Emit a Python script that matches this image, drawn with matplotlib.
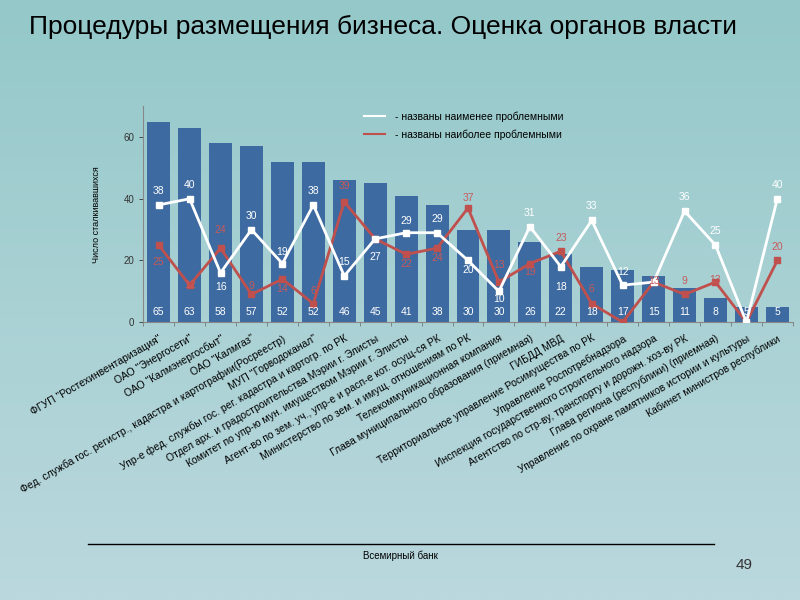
import matplotlib.pyplot as plt
import numpy as np
from matplotlib.lines import Line2D
from matplotlib.colors import LinearSegmentedColormap

# Данные
organy = [
    'ФГУП "Ростехинвентаризация"',
    'ОАО "Энергосети"',
    'ОАО "Калмэнергосбыт"',
    'ОАО "Калмгаз"',
    'Фед. служба гос. регистр., кадастра и картографии(Росреестр)',
    'МУП "Горводоканал"',
    'Упр-е фед. службы гос. рег. кадастра и картогр. по РК',
    'Отдел арх. и градостроительства Мэрии г. Элисты',
    'Комитет по упр-ю мун. имуществом Мэрии г. Элисты',
    'Агент-во по зем. уч., упр-е и расп-е кот. осущ-ся РК',
    'Министерство по зем. и имущ. отношениям по РК',
    'Телекоммуникационная компания',
    'Глава муниципального образования (приемная)',
    'ГИБДД МВД',
    'Территориальное управление Росимущества по РК',
    'Управление Роспотребнадзора',
    'Инспекция государственного строительного надзора',
    'Агентство по стр-ву, транспорту и дорожн. хоз-ву РК',
    'Глава региона (республики) (приемная)',
    'Управление по охране памятников истории и культуры',
    'Кабинет министров республики',
]
stalkivavshiesya = [65, 63, 58, 57, 52, 52, 46, 45, 41, 38, 30, 30, 26, 22, 18, 17, 15, 11, 8, 5, 5]
naimenee = [38, 40, 16, 30, 19, 38, 15, 27, 29, 29, 20, 10, 31, 18, 33, 12, 13, 36, 25, 0, 40]
naibolee = [25, 12, 24, 9, 14, 6, 39, 27, 22, 24, 37, 13, 19, 23, 6, 0, 13, 9, 13, 0, 20]

# смещения подписей (пиксели, None = без подписи)
sdvig_bel = [14, 14, -14, 14, 12, 14, 14, -18, 12, 14, -10, -8, 14, -20, 14, 13, None, 14, 14, None, 14]
sdvig_kr = [-17, 0, 18, 8, -10, 13, 16, None, -10, -10, 10, 17, -8, 13, 15, None, 1, 13, 2, None, 13]

sinij = '#3d6aa0'
krasnyj = '#c0504d'
shrift = ['Liberation Sans', 'DejaVu Sans']

fig = plt.figure(figsize=(8, 6), dpi=100)

# фон с градиентом (сверху темнее)
fon = fig.add_axes([0, 0, 1, 1])
grad = np.linspace(0, 1, 256).reshape(-1, 1)
cmap = LinearSegmentedColormap.from_list('fon', ['#94c8c9', '#a9d1d4', '#bad8de'])
fon.imshow(grad, aspect='auto', cmap=cmap, extent=[0, 1, 0, 1], origin='upper')
fon.axis('off')

ax = fig.add_axes([0.179, 0.463, 0.812, 0.36])
ax.patch.set_alpha(0)
x = np.arange(len(organy))
ax.bar(x, stalkivavshiesya, width=0.74, color=sinij, zorder=2)
for i, v in enumerate(stalkivavshiesya):
    ax.text(i, 1.6, str(v), color='white', ha='center', va='bottom',
            fontsize=7.5, family=shrift, zorder=5)

ax.plot(x, naimenee, color='white', lw=2, marker='s', ms=5, zorder=4)
ax.plot(x, naibolee, color=krasnyj, lw=2, marker='s', ms=4.5, zorder=3)

for i, v in enumerate(naimenee):
    if sdvig_bel[i] is not None:
        ax.annotate(str(v), (i, v), xytext=(0, sdvig_bel[i] * 0.72), textcoords='offset points',
                    ha='center', va='center', color='white', fontsize=7.5, family=shrift, zorder=6)
for i, v in enumerate(naibolee):
    if sdvig_kr[i] is not None:
        ax.annotate(str(v), (i, v), xytext=(0, sdvig_kr[i] * 0.72), textcoords='offset points',
                    ha='center', va='center', color='#c65a5a', fontsize=7.5, family=shrift, zorder=6)

ax.set_xlim(-0.5, len(organy) - 0.5)
ax.set_ylim(0, 70)
ax.set_yticks([0, 20, 40, 60])
ax.tick_params(axis='y', labelsize=7, colors='#333333', length=3, width=0.6)
for t in ax.get_yticklabels():
    t.set_family(shrift)
ax.set_xticks(x)
ax.set_xticklabels(organy, rotation=30, ha='right', rotation_mode='anchor',
                   fontsize=7.5, family=shrift)
ax.tick_params(axis='x', which='major', length=0, pad=8)
ax.set_xticks(np.arange(len(organy) + 1) - 0.5, minor=True)
ax.tick_params(axis='x', which='minor', length=3, width=0.6, color='#777777')
for s in ['top', 'right']:
    ax.spines[s].set_visible(False)
ax.spines['left'].set_color('#888888')
ax.spines['bottom'].set_color('#888888')
ax.spines['left'].set_linewidth(0.8)
ax.spines['bottom'].set_linewidth(0.8)
ax.set_ylabel('Число сталкивавшихся', fontsize=6.5, family=shrift, labelpad=16)

ruchki = [Line2D([], [], color='white', lw=1.5), Line2D([], [], color=krasnyj, lw=1.5)]
fig.legend(ruchki, ['- названы наименее проблемными', '- названы наиболее проблемными'],
           loc='upper left', bbox_to_anchor=(0.443, 0.83), frameon=False,
           prop={'family': shrift, 'size': 7.5}, handlelength=2.0, labelspacing=0.75,
           handletextpad=1.0)

fig.text(0.036, 0.955, 'Процедуры размещения бизнеса. Оценка органов власти',
         fontsize=19, family=['Liberation Sans Narrow', 'Liberation Sans', 'DejaVu Sans'],
         va='center', ha='left')

fig.add_artist(Line2D([0.11, 0.892], [0.093, 0.093], color='black', lw=1))
fig.text(0.5, 0.073, 'Всемирный банк', fontsize=7, family=shrift, ha='center', va='center')
fig.text(0.93, 0.058, '49', fontsize=11, family=shrift, ha='center', va='center', color='#333333')

fig.savefig('out.png', dpi=100)
